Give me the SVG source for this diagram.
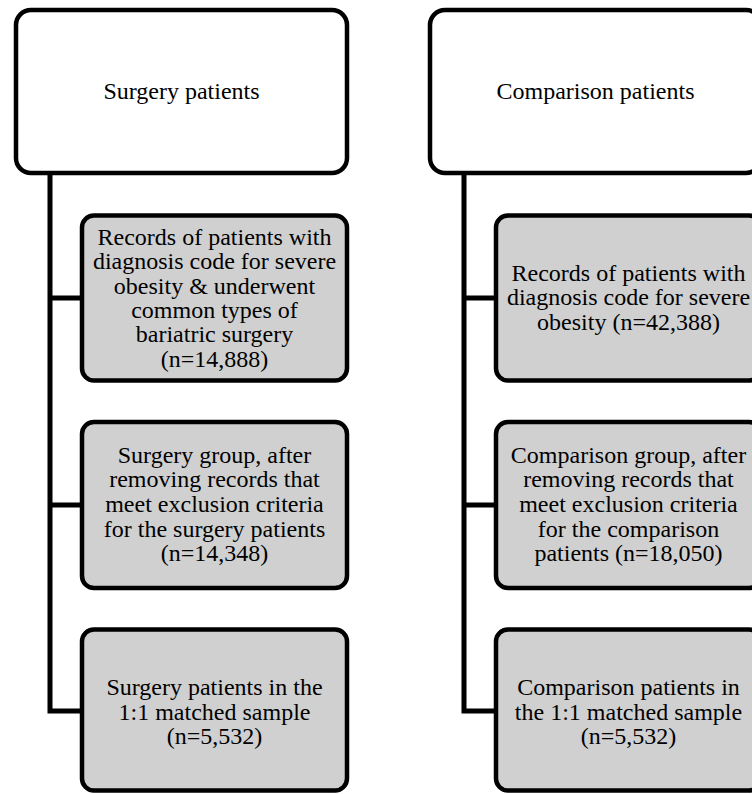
<svg xmlns="http://www.w3.org/2000/svg" width="752" height="794" viewBox="0 0 752 794">
<style>
.top{fill:#ffffff;stroke:#000;stroke-width:4.5}
.box{fill:#d0d0d0;stroke:#000;stroke-width:4.5}
.conn{fill:none;stroke:#000;stroke-width:5;stroke-linejoin:miter;stroke-linecap:butt}
text{font-family:"Liberation Serif","Times New Roman",serif;font-size:24px;fill:#000;text-anchor:middle}
</style>
<rect width="752" height="794" fill="#fff"/>
<g id="connectors">
<path class="conn" d="M50 173 V711 H82 M50 298 H82 M50 505 H82"/>
<path class="conn" d="M464 173 V711 H496 M464 298 H496 M464 505 H496"/>
</g>
<g id="surgery-patients">
<rect class="top" x="16" y="10" width="331" height="163" rx="15"/>
<text x="181.5" y="99">Surgery patients</text>
</g>
<g id="surgery-records">
<rect class="box" x="82" y="215.5" width="265" height="165" rx="12"/>
<text x="214.5" y="245">Records of patients with</text>
<text x="214.5" y="269.3">diagnosis code for severe</text>
<text x="214.5" y="293.6">obesity &amp; underwent</text>
<text x="214.5" y="317.9">common types of</text>
<text x="214.5" y="342.2">bariatric surgery</text>
<text x="214.5" y="366.5">(n=14,888)</text>
</g>
<g id="surgery-group">
<rect class="box" x="82" y="422" width="265" height="166" rx="12"/>
<text x="214.5" y="462.7">Surgery group, after</text>
<text x="214.5" y="487.3">removing records that</text>
<text x="214.5" y="512">meet exclusion criteria</text>
<text x="214.5" y="536.7">for the surgery patients</text>
<text x="214.5" y="561.4">(n=14,348)</text>
</g>
<g id="surgery-matched">
<rect class="box" x="82" y="629.5" width="265" height="161" rx="12"/>
<text x="214.5" y="695">Surgery patients in the</text>
<text x="214.5" y="719.5">1:1 matched sample</text>
<text x="214.5" y="744">(n=5,532)</text>
</g>
<g id="comparison-patients">
<rect class="top" x="430" y="10" width="331" height="163" rx="15"/>
<text x="595.5" y="99">Comparison patients</text>
</g>
<g id="comparison-records">
<rect class="box" x="496" y="215.5" width="265" height="165" rx="12"/>
<text x="628.5" y="281">Records of patients with</text>
<text x="628.5" y="305.3">diagnosis code for severe</text>
<text x="628.5" y="329.6">obesity (n=42,388)</text>
</g>
<g id="comparison-group">
<rect class="box" x="496" y="422" width="265" height="166" rx="12"/>
<text x="628.5" y="462.7">Comparison group, after</text>
<text x="628.5" y="487.3">removing records that</text>
<text x="628.5" y="512">meet exclusion criteria</text>
<text x="628.5" y="536.7">for the comparison</text>
<text x="628.5" y="561.4">patients (n=18,050)</text>
</g>
<g id="comparison-matched">
<rect class="box" x="496" y="629.5" width="265" height="161" rx="12"/>
<text x="628.5" y="695">Comparison patients in</text>
<text x="628.5" y="719.5">the 1:1 matched sample</text>
<text x="628.5" y="744">(n=5,532)</text>
</g>
</svg>
